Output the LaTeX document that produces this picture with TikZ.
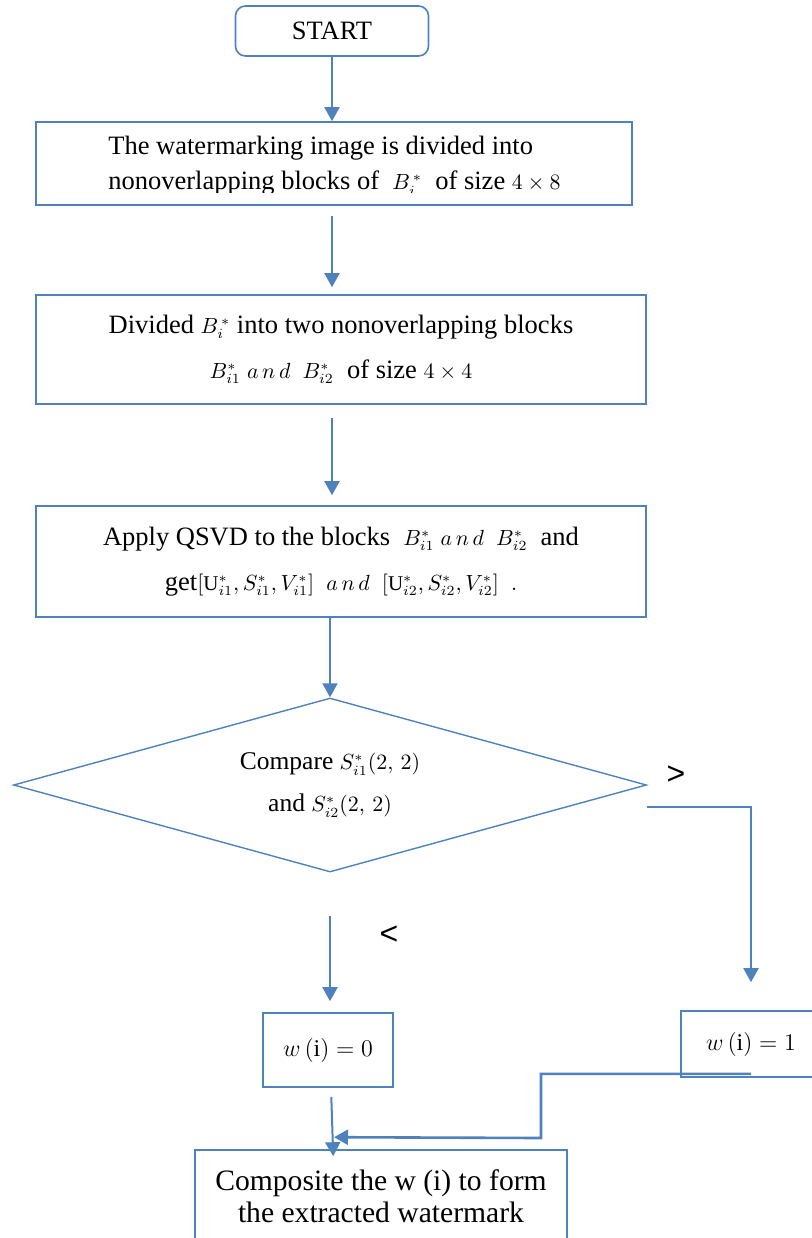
\documentclass[tikz,border=0pt]{standalone}
\usepackage{fontspec}
\setmainfont{Liberation Serif}
\newfontfamily\signfont{Liberation Sans}
\usetikzlibrary{shapes.geometric,arrows.meta,positioning}
\definecolor{flowblue}{RGB}{79,129,189}
\newcommand{\txtsize}[1]{\fontsize{13.25}{#1}\selectfont}
\newcommand{\sm}[1]{{\fontsize{10.5}{12}\selectfont$#1$}}
\newcommand{\md}[1]{{\fontsize{10.5}{12}\selectfont$#1$}}

\begin{document}
\begin{tikzpicture}[x=0.5pt, y=-0.5pt, >={Triangle[width=7.5pt,length=7pt]},
    box/.style={draw=flowblue, line width=0.8pt, inner sep=0pt, align=center},
    con/.style={->, draw=flowblue, line width=1pt},
    sign/.style={font=\signfont\fontsize{16}{18}\selectfont}]
    \useasboundingbox (0,0) rectangle (811,1238);

    \node[box, rounded corners=5pt, minimum width=96.5pt, minimum height=25pt, font=\txtsize{16}] (start) at (332,31) {START};

    % text of the first box is cut off by its frame
    \node[box, minimum width=298pt, minimum height=41.5pt] (divide) at (334,163.5) {};
    \begin{scope}
        \clip (divide.north west) rectangle ([yshift=6.5pt]divide.south east);
        \node[anchor=west, align=left, inner sep=0pt, font=\txtsize{17.5}] (dividetxt) at (108,166)
            {The watermarking image is divided into\\
             nonoverlapping blocks of \ \sm{B_{i}^{\,*}}\ \ of size \sm{4\times 8}};
    \end{scope}

    \node[box, minimum width=305pt, minimum height=54.5pt, font=\txtsize{22.5}] (split) at (341,349.5)
        {Divided \sm{B_{i}^{\,*}} into two nonoverlapping blocks\\
         \sm{B^{*}_{i1}\;a\,n\,d\;\;B^{*}_{i2}}\ \ of size \sm{4\times 4}};
    \node[box, minimum width=305pt, minimum height=55.5pt, font=\txtsize{22.5}] (qsvd) at (341,561.5)
        {Apply QSVD to the blocks \ \sm{B^{*}_{i1}\;a\,n\,d\;\;B^{*}_{i2}}\ \ and\\
         get\sm{[\mathrm{U}^{*}_{i1}, S^{*}_{i1}, V^{*}_{i1}]\;\;a\,n\,d\;\;[\mathrm{U}^{*}_{i2}, S^{*}_{i2}, V^{*}_{i2}]\;\;.}};

    \node[diamond, shape aspect=3.6, draw=flowblue, line width=0.7pt, inner sep=0pt,
        minimum width=316.5pt, minimum height=87pt, align=center,
        font=\fontsize{12.75}{21}\selectfont] (cmp) at (330,785)
        {Compare \md{S^{*}_{i1}(2,\,2)}\\ and \md{S^{*}_{i2}(2,\,2)}};
    \node[sign] (gt) at (676,775) {>};
    \node[sign] (lt) at (389,935) {<};

    \node[box, minimum width=65pt, minimum height=37pt, font=\fontsize{12}{14}\selectfont] (wzero) at (328,1050) {$w\,(\mathrm{i}) = 0$};
    \node[box, minimum width=70pt, minimum height=33pt, font=\fontsize{12}{14}\selectfont] (wone) at (751,1044) {$w\,(\mathrm{i}) = 1$};
    \node[box, minimum width=186pt, minimum height=46pt, font=\fontsize{14.8}{16}\selectfont] (comp) at (381,1196)
        {Composite the w (i) to form\\ the extracted watermark};

    \draw[con] (start.south) -- (start.south |- divide.north);
    \draw[con, shorten <=5pt, shorten >=3.5pt] (divide.south -| start.south) -- (split.north -| start.south);
    \draw[con, shorten <=6.5pt, shorten >=5pt] (split.south -| start.south) -- (qsvd.north -| start.south);
    \draw[con] (qsvd.south -| cmp.north) -- (cmp.north);
    \draw[con, shorten <=21.5pt, shorten >=5.5pt] (cmp.south) -- (cmp.south |- wzero.north);
    \draw[con, shorten >=14pt] ([yshift=-11pt]cmp.east) -| (wone.north);
    \draw[con, shorten <=4.5pt, shorten >=-3.5pt] ([xshift=1.5pt]wzero.south) -- ([xshift=-24pt]comp.north);
    \coordinate (jog) at (541,1138);
    \draw[con, line width=1.3pt] ([yshift=2pt]wone.south) -| (jog) -- ([xshift=-23.5pt,yshift=6pt]comp.north);
\end{tikzpicture}
\end{document}
